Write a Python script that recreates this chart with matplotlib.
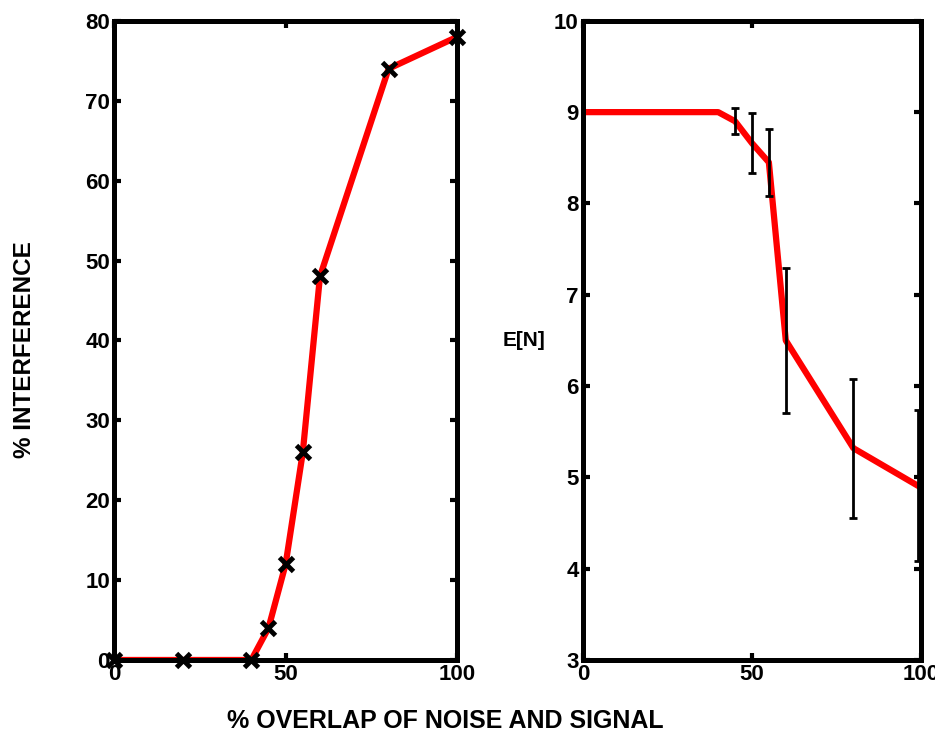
import matplotlib.pyplot as plt

plt.rcParams['font.family'] = ['Liberation Sans', 'DejaVu Sans']
plt.rcParams['font.weight'] = 'bold'

# interference vs overlap
overlap = [0, 20, 40, 45, 50, 55, 60, 80, 100]
interference = [0, 0, 0, 4, 12, 26, 48, 74, 78]

# expected number E[N] vs overlap
en_x = [0, 20, 40, 45, 50, 55, 60, 80, 99]
en_y = [9, 9, 9, 8.9, 8.66, 8.45, 6.5, 5.32, 4.91]
err_x = [45, 50, 55, 60, 80, 99]
err_y = [8.9, 8.66, 8.45, 6.5, 5.32, 4.91]
err = [0.14, 0.33, 0.37, 0.79, 0.76, 0.83]

fig = plt.figure(figsize=(9.35, 7.33), dpi=100)
ax1 = fig.add_axes([0.122, 0.0996, 0.367, 0.872])
ax2 = fig.add_axes([0.6235, 0.0996, 0.3615, 0.872])

ax1.plot(overlap, interference, c="red", linewidth=4.5, zorder=2)
ax1.plot(overlap, interference, 'x', c="black", markersize=10, mew=3.5, zorder=3, clip_on=False)
ax1.set_xlim(0, 100)
ax1.set_ylim(0, 80)
ax1.set_xticks([0, 50, 100])
ax1.set_yticks(range(0, 81, 10))

ax2.plot(en_x, en_y, c="red", linewidth=4.5, zorder=2)
ax2.errorbar(err_x, err_y, yerr=err, fmt='none', ecolor='black', elinewidth=2,
             capsize=3, capthick=2, zorder=3, clip_on=False)
ax2.set_xlim(0, 100)
ax2.set_ylim(3, 10)
ax2.set_xticks([0, 50, 100])
ax2.set_yticks(range(3, 11))
ax2.set_ylabel("E[N]", fontsize=15, fontweight='bold', rotation=0, labelpad=22, va='center')

for ax in (ax1, ax2):
    for s in ax.spines.values():
        s.set_linewidth(3.6)
    ax.tick_params(direction='in', length=5, width=3, labelsize=16, pad=3,
                   top=True, right=True)
    for lab in ax.get_xticklabels() + ax.get_yticklabels():
        lab.set_fontweight('bold')

fig.text(0.026, 0.5225, "% INTERFERENCE", fontsize=17.5, fontweight='bold',
         rotation=90, ha='center', va='center')
fig.text(0.4765, 0.0164, "% OVERLAP OF NOISE AND SIGNAL", fontsize=18, fontweight='bold',
         ha='center', va='center')

fig.savefig("out.png", dpi=100)
